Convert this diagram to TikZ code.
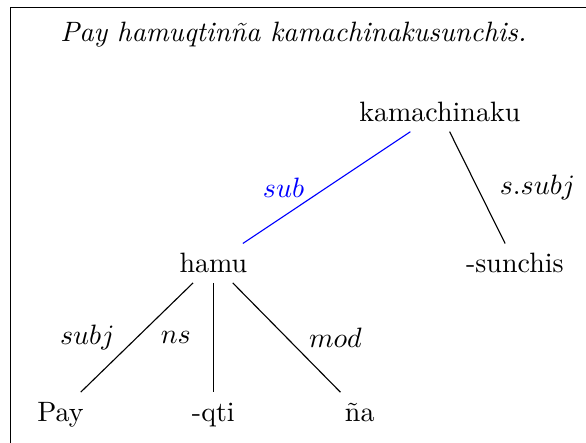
\documentclass[tikz,border=0pt]{standalone}
\usetikzlibrary{positioning}
\begin{document}
\begin{tikzpicture}[on grid, word/.style={text height=7pt,text depth=0pt}, subedge/.style={blue}, lbl/.style={inner sep=3.33pt}]
\useasboundingbox (0,0) rectangle (209.3pt,-158.2pt);
\draw (3.9pt,-158.2pt) |- (209.3pt,-2.7pt);
\node[anchor=base] (title) at (104.8pt,-14.9pt) {\textit{Pay hamuqtinña kamachinakusunchis.}};
\node[word] (kam) at (157.1pt,-40pt) {kamachinaku};
\node[word,below left=54pt and 80.9pt of kam] (hamu) {hamu};
\node[word,below right=54pt and 26.8pt of kam] (sunchis) {-sunchis};
\node[word,below left=53.1pt and 54.6pt of hamu] (pay) {Pay};
\node[word,below=53.1pt of hamu] (qti) {-qti};
\node[word,below right=53.1pt and 52.3pt of hamu] (na) {ña};
\draw[subedge] (kam) -- node[lbl,left=4.5pt]{$sub$} (hamu);
\draw (kam) -- node[lbl,right=4.5pt]{$s.subj$} (sunchis);
\draw (hamu) -- node[lbl,left=4.5pt]{$subj$} (pay);
\draw (hamu) -- node[lbl,left=4.5pt]{$ns$} (qti);
\draw (hamu) -- node[lbl,right=4.5pt]{$mod$} (na);
\end{tikzpicture}
\end{document}
